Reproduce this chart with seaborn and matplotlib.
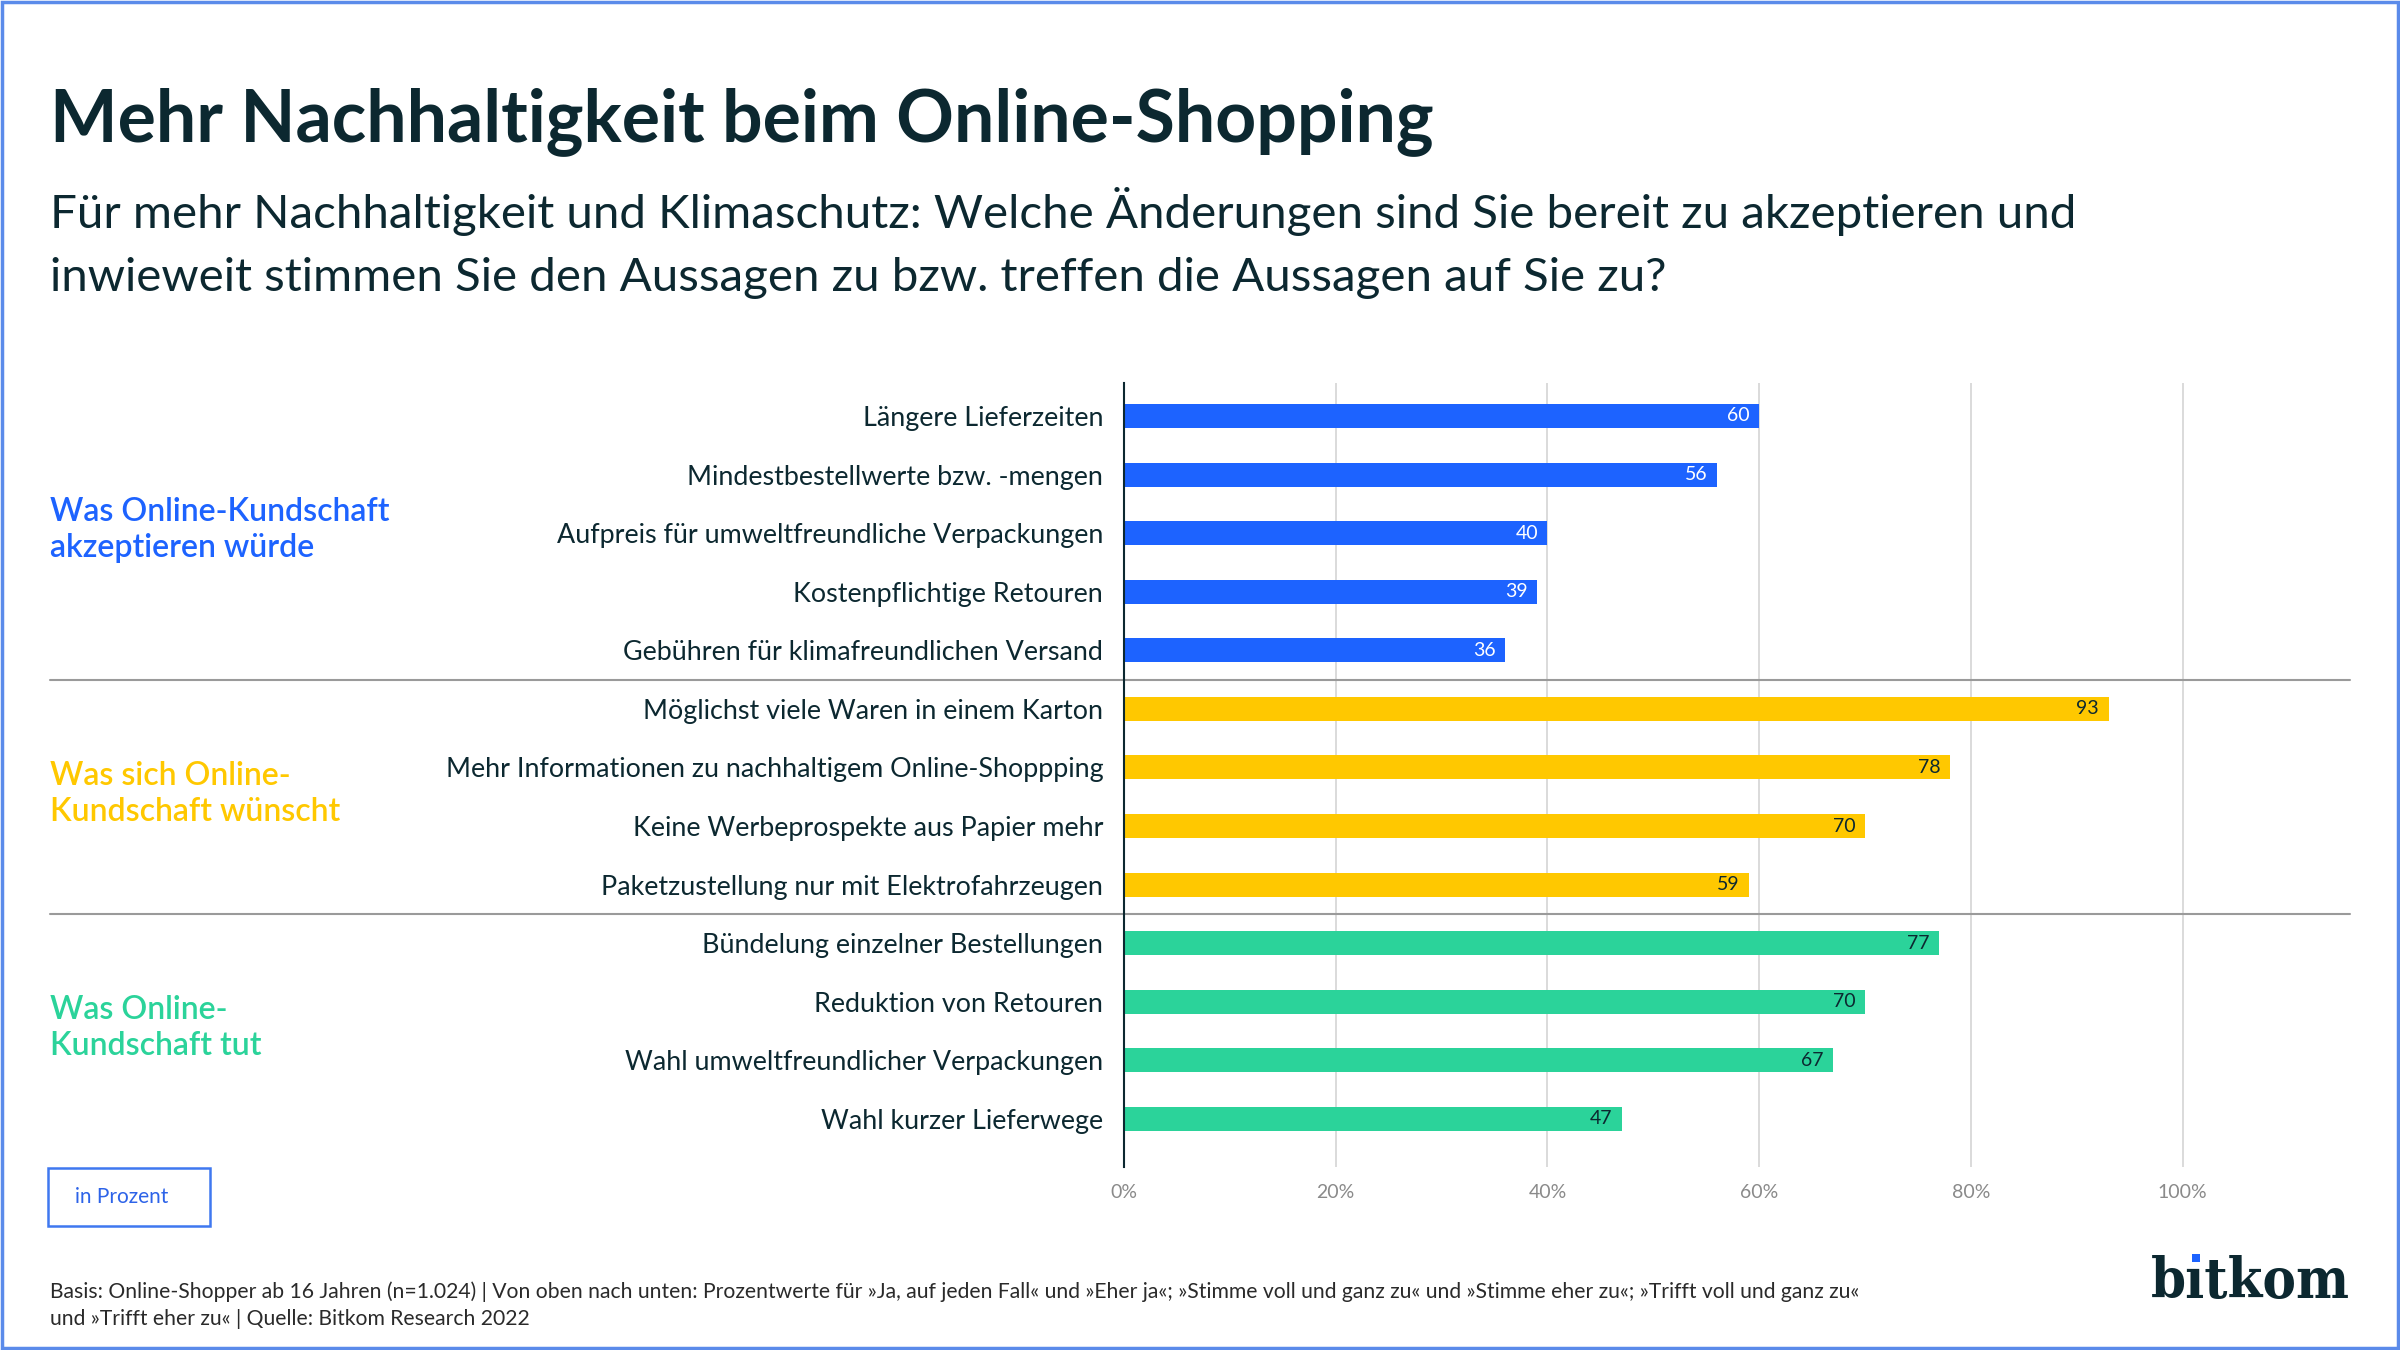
import matplotlib
matplotlib.use("Agg")
import matplotlib.pyplot as plt
import seaborn as sns
import pandas as pd
from matplotlib.patches import Rectangle

categories = [
    "Längere Lieferzeiten",
    "Mindestbestellwerte bzw. -mengen",
    "Aufpreis für umweltfreundliche Verpackungen",
    "Kostenpflichtige Retouren",
    "Gebühren für klimafreundlichen Versand",
    "Möglichst viele Waren in einem Karton",
    "Mehr Informationen zu nachhaltigem Online-Shoppping",
    "Keine Werbeprospekte aus Papier mehr",
    "Paketzustellung nur mit Elektrofahrzeugen",
    "Bündelung einzelner Bestellungen",
    "Reduktion von Retouren",
    "Wahl umweltfreundlicher Verpackungen",
    "Wahl kurzer Lieferwege",
]
values = [60, 56, 40, 39, 36, 93, 78, 70, 59, 77, 70, 67, 47]
groups = ["akzeptieren"] * 5 + ["wünscht"] * 4 + ["tut"] * 4
group_labels = ["Was Online-Kundschaft\nakzeptieren würde",
                "Was sich Online-\nKundschaft wünscht",
                "Was Online-\nKundschaft tut"]
group_names = ["akzeptieren", "wünscht", "tut"]
group_colors = ["#1D63FF", "#FFC800", "#2BD39A"]
xticks = [0, 20, 40, 60, 80, 100]
xtick_labels = ["0%", "20%", "40%", "60%", "80%", "100%"]

title = "Mehr Nachhaltigkeit beim Online-Shopping"
subtitle = ("Für mehr Nachhaltigkeit und Klimaschutz: Welche Änderungen sind Sie bereit zu akzeptieren und\n"
            "inwieweit stimmen Sie den Aussagen zu bzw. treffen die Aussagen auf Sie zu?")
footer = ("Basis: Online-Shopper ab 16 Jahren (n=1.024) | Von oben nach unten: Prozentwerte für »Ja, auf jeden Fall« und »Eher ja«; »Stimme voll und ganz zu« und »Stimme eher zu«; »Trifft voll und ganz zu«\n"
          "und »Trifft eher zu« | Quelle: Bitkom Research 2022")

DARK = "#0C2830"
BAR_W = 0.41

sns.set_theme(style="white")
plt.rcParams["font.family"] = ["Lato", "DejaVu Sans"]

df = pd.DataFrame({"cat": categories, "val": values, "grp": groups})

W, H = 2400, 1350
fig = plt.figure(figsize=(24, 13.5), dpi=100)
fig.patch.set_facecolor("white")

ax_left = 1124 / W
ax_right = 2350 / W
ax_top = 1 - 383 / H
ax_bot = 1 - 1167 / H
ax = fig.add_axes([ax_left, ax_bot, ax_right - ax_left, ax_top - ax_bot])

sns.barplot(data=df, x="val", y="cat", hue="grp", hue_order=group_names,
            palette=group_colors, dodge=False, orient="h", width=BAR_W,
            legend=False, ax=ax, saturation=1)
# make sure every bar has the intended thickness
for p in ax.patches:
    cy = p.get_y() + p.get_height() / 2
    p.set_height(BAR_W)
    p.set_y(cy - BAR_W / 2)
    p.set_linewidth(0)

ax.set_xlim(0, 115.8)
ax.set_ylim(12.82, -0.563)
ax.set_xlabel("")
ax.set_ylabel("")
ax.set_xticks(xticks)
ax.set_xticklabels(xtick_labels, fontsize=14, color="#8A8A8A")
ax.tick_params(axis="x", length=0, pad=12)
ax.tick_params(axis="y", length=0, pad=15, labelsize=19.4, labelcolor=DARK)
for t in ax.get_yticklabels():
    t.set_color(DARK)
for s in ["top", "right", "bottom"]:
    ax.spines[s].set_visible(False)
ax.spines["left"].set_color(DARK)
ax.spines["left"].set_linewidth(1.5)
for xv in xticks[1:]:
    ax.axvline(xv, color="#D4D4D4", lw=1.2, zorder=0)

# group separators
for yv in [4.5, 8.5]:
    ax.axhline(yv, xmin=-0.876, xmax=1, color="#9A9A9A", lw=1.5, clip_on=False)

# value labels
for i, (v, g) in enumerate(zip(values, groups)):
    col = "white" if g == "akzeptieren" else DARK
    ax.text(v - 0.9, i, str(v), ha="right", va="center", fontsize=14, color=col)

# group labels
group_centers = [1.95, 6.45, 10.45]
for lbl, yc, c in zip(group_labels, group_centers, group_colors):
    ax.annotate(lbl, xy=(50 / W, yc), xycoords=("figure fraction", "data"),
                ha="left", va="center", fontsize=23, color=c, fontweight="semibold",
                linespacing=1.25, annotation_clip=False)

# title & subtitle
fig.text(50 / W, 1 - 122 / H, title, ha="left", va="center", fontsize=51.5,
         fontweight="bold", color=DARK)
fig.text(50 / W, 1 - 243 / H, subtitle, ha="left", va="center", fontsize=34.2,
         color=DARK, linespacing=1.62)

# "in Prozent" box
fig.patches.append(Rectangle((48 / W, 1 - 1226 / H), 162 / W, 58 / H,
                             transform=fig.transFigure, fill=False,
                             edgecolor="#3F78F0", lw=1.8))
fig.text(122 / W, 1 - 1197 / H, "in Prozent", ha="center", va="center",
         fontsize=15, color="#2D63E8")

# footer
fig.text(50 / W, 1 - 1305 / H, footer, ha="left", va="center", fontsize=15.2,
         color="#2A2A2A", linespacing=1.45)

# logo: slab-serif wordmark with a blue square dot on the i
renderer = fig.canvas.get_renderer()
logo_font = dict(family="DejaVu Serif", fontweight="bold", fontstretch="condensed")
probe = fig.text(0, 0, "bıtkom", fontsize=40, **logo_font)
pw = probe.get_window_extent(renderer).width
probe.remove()
logo_size = 40 * 199 / pw
logo = fig.text(2350 / W, 1 - 1298 / H, "bıtkom", ha="right", va="baseline",
                fontsize=logo_size, color=DARK, **logo_font)
bb = logo.get_window_extent(renderer)
pb = fig.text(0, 0, "b", fontsize=logo_size, **logo_font)
wb = pb.get_window_extent(renderer).width
pb.remove()
pi = fig.text(0, 0, "ı", fontsize=logo_size, **logo_font)
wi = pi.get_window_extent(renderer).width
pi.remove()
dot_cx = bb.x0 + wb + wi / 2
dot = 8
fig.patches.append(Rectangle(((dot_cx - dot / 2) / W, 1 - 1262 / H), dot / W, dot / H,
                             transform=fig.transFigure, facecolor="#1D63FF",
                             edgecolor="none"))

# frame
fig.patches.append(Rectangle((0.0008, 0.0015), 0.9984, 0.997, transform=fig.transFigure,
                             fill=False, edgecolor="#5B8BEA", lw=2.5))

fig.savefig("out.png", dpi=100, facecolor="white")
